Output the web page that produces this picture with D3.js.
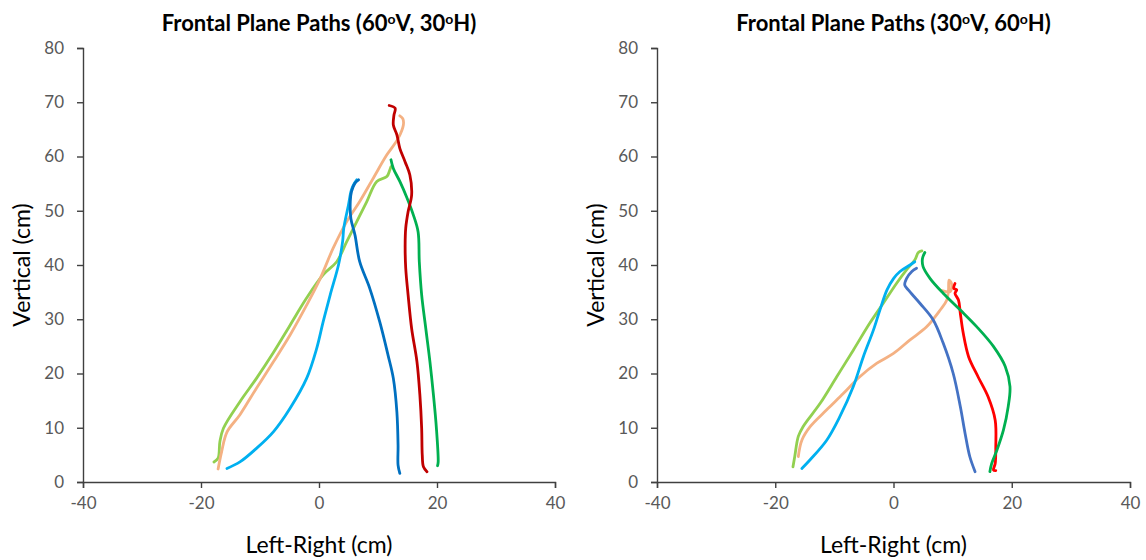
<!DOCTYPE html>
<html>
<head>
<meta charset="utf-8">
<script src="https://cdn.jsdelivr.net/npm/d3@7"></script>
<style>
  body { margin: 0; background: #fff; }
  text { font-family: Lato, "Open Sans", sans-serif; }
</style>
</head>
<body>
<svg id="chart" width="1146" height="560"></svg>
<script>
// ticks
const xTicks = [-40, -20, 0, 20, 40]
const yTicks = [0, 10, 20, 30, 40, 50, 60, 70, 80]

// panel 1 : 60V, 30H   ([left-right cm, vertical cm])
const p1DarkRed = [[11.9,69.4],[12.9,68.9],[12.7,67.6],[12.6,65.8],[13.2,64.0],[13.7,61.5],[14.6,59.0],[15.4,56.6],[15.7,52.9],[15.1,49.8],[14.7,46.8],[14.6,43.7],[14.7,39.4],[15.1,34.5],[15.7,28.3],[16.6,22.2],[17.1,16.0],[17.4,9.9],[17.5,5.0],[17.7,2.8],[18.3,1.9]]
const p1Peach = [[-17.1,2.4],[-16.5,5.6],[-15.6,9.2],[-13.4,12.4],[-10.6,17.3],[-7.7,22.2],[-4.9,27.1],[-2.1,32.6],[0.2,37.5],[2.4,43.1],[4.7,48.0],[6.9,51.7],[9.2,56.0],[11.5,60.3],[13.4,63.3],[14.3,65.8],[14.2,67.0],[13.7,67.5]]
const p1Green = [[12.2,59.4],[12.6,57.8],[13.7,55.4],[14.9,52.4],[16.0,49.2],[16.8,46.1],[17.0,40.6],[17.4,34.5],[18.1,28.3],[18.8,22.2],[19.4,16.0],[19.9,9.9],[20.2,3.7],[20.1,3.0]]
const p1LightGreen = [[-17.8,3.7],[-17.1,4.4],[-16.8,7.4],[-16.2,9.9],[-13.4,14.8],[-10.6,19.1],[-7.7,23.9],[-4.9,28.9],[-2.1,33.9],[0.7,38.2],[3.0,40.6],[4.7,44.3],[6.4,48.0],[8.1,51.7],[9.8,55.4],[11.5,56.3],[12.0,57.5],[12.2,58.1]]
const p1LightBlue = [[-15.6,2.5],[-13.4,3.7],[-10.6,6.2],[-7.7,9.3],[-4.9,13.6],[-2.1,19.1],[-0.4,24.6],[0.7,29.5],[1.9,34.5],[3.3,40.0],[4.0,44.3],[4.2,46.8],[5.0,51.1],[5.4,53.5],[5.8,54.7],[6.4,55.7]]
const p1Blue = [[6.7,55.7],[6.1,55.1],[5.5,53.5],[5.3,51.7],[5.4,48.6],[6.1,45.5],[6.9,40.6],[8.6,35.7],[10.3,29.5],[11.7,23.4],[12.6,19.1],[13.2,12.9],[13.4,6.8],[13.4,3.1],[13.7,1.6]]

// panel 2 : 30V, 60H
const p2Red = [[10.4,36.6],[10.2,35.7],[10.7,35.4],[10.4,34.8],[11.0,33.5],[11.3,31.1],[11.8,27.4],[12.7,23.1],[14.3,19.4],[16.0,15.7],[17.2,11.4],[17.3,6.5],[17.2,3.4],[16.9,2.2],[17.3,2.1]]
const p2Peach = [[-16.1,4.7],[-15.5,7.7],[-14.1,10.2],[-11.3,13.3],[-8.5,16.3],[-5.7,19.4],[-2.8,21.9],[0.0,23.7],[2.8,26.2],[5.6,28.6],[7.9,31.7],[9.0,33.5],[9.3,35.3],[9.4,37.2],[9.8,36.6],[9.6,35.1],[8.2,35.3]]
const p2Green = [[5.3,42.3],[4.9,41.2],[5.0,39.7],[6.2,37.5],[8.4,34.8],[11.3,31.7],[14.1,28.6],[16.9,25.0],[18.9,21.3],[19.7,17.6],[19.4,13.9],[18.6,9.6],[17.5,5.9],[16.6,3.4],[16.3,1.9]]
const p2LightGreen = [[-17.0,2.8],[-16.7,4.7],[-16.1,8.4],[-15.3,10.2],[-12.4,14.5],[-9.6,19.4],[-6.8,24.3],[-4.0,29.3],[-1.7,33.0],[0.5,36.6],[2.2,39.1],[3.6,40.9],[4.2,42.3],[4.8,42.6]]
const p2LightBlue = [[-15.5,2.5],[-14.1,4.1],[-11.3,7.7],[-9.1,12.0],[-6.8,17.6],[-5.1,23.1],[-3.4,28.0],[-2.3,31.7],[-1.1,35.4],[0.0,37.5],[1.1,38.8],[2.8,40.0],[3.6,40.6]]
const p2Blue = [[3.9,39.4],[3.1,38.8],[2.2,37.5],[1.9,36.3],[2.5,35.4],[4.5,32.9],[6.7,29.9],[8.4,25.6],[10.1,20.0],[11.3,13.9],[12.1,9.0],[12.9,4.7],[13.8,1.9]]

const panels = [
  { left: 83, right: 555, v: '60', h: '30', lines: [
    { data: p1LightGreen, color: '#92d050' },
    { data: p1Peach, color: '#f4b183' },
    { data: p1LightBlue, color: '#00b0f0' },
    { data: p1Blue, color: '#0070c0' },
    { data: p1Green, color: '#00b050' },
    { data: p1DarkRed, color: '#c00000' }
  ]},
  { left: 657, right: 1130, v: '30', h: '60', lines: [
    { data: p2Peach, color: '#f4b183' },
    { data: p2LightGreen, color: '#92d050' },
    { data: p2LightBlue, color: '#00b0f0' },
    { data: p2Blue, color: '#4472c4' },
    { data: p2Red, color: '#ff0000' },
    { data: p2Green, color: '#00b050' }
  ]}
]

const svg = d3.select('#chart')
const plotTop = 48, plotBottom = 482

panels.forEach(p => {
  let x = d3.scaleLinear().domain([-40, 40]).range([p.left, p.right])
  let y = d3.scaleLinear().domain([0, 80]).range([plotBottom, plotTop])
  let g = svg.append('g')

  // axes (plain hyphen for negatives, like the original)
  let xAxis = g.append('g')
    .attr('transform', `translate(0,${plotBottom})`)
    .call(d3.axisBottom(x).tickValues(xTicks).tickFormat(d => String(d))
      .tickSize(6).tickSizeOuter(6).tickPadding(9))
  let yAxis = g.append('g')
    .attr('transform', `translate(${p.left},0)`)
    .call(d3.axisLeft(y).tickValues(yTicks).tickFormat(d => String(d))
      .tickSize(6).tickSizeOuter(6).tickPadding(13))

  ;[xAxis, yAxis].forEach(a => {
    a.select('.domain').attr('stroke', '#404040').attr('stroke-width', 1.4)
    a.selectAll('.tick line').attr('stroke', '#404040').attr('stroke-width', 1.4)
    a.selectAll('.tick text').attr('fill', '#595959').style('font-size', '17px')
  })

  // paths
  let line = d3.line().x(d => x(d[0])).y(d => y(d[1])).curve(d3.curveCatmullRom)
  p.lines.forEach(l => {
    g.append('path')
      .datum(l.data)
      .attr('d', line)
      .attr('fill', 'none')
      .attr('stroke', l.color)
      .attr('stroke-width', 2.8)
      .attr('stroke-linecap', 'round')
      .attr('stroke-linejoin', 'round')
  })

  // title
  let mid = (p.left + p.right) / 2
  let t = g.append('text')
    .attr('x', mid)
    .attr('y', 31)
    .attr('text-anchor', 'middle')
    .style('font-size', '22px')
    .style('font-weight', 'bold')
    .attr('fill', '#000')
  t.append('tspan').text('Frontal Plane Paths (' + p.v)
  t.append('tspan').text('o').attr('dy', -7).style('font-size', '14px')
  t.append('tspan').text('V, ' + p.h).attr('dy', 7)
  t.append('tspan').text('o').attr('dy', -7).style('font-size', '14px')
  t.append('tspan').text('H)').attr('dy', 7)

  // axis titles
  g.append('text')
    .attr('x', mid)
    .attr('y', 553)
    .attr('text-anchor', 'middle')
    .style('font-size', '23px')
    .attr('fill', '#000')
    .text('Left-Right (cm)')
  g.append('text')
    .attr('transform', `translate(${p.left - 53},${(plotTop + plotBottom) / 2}) rotate(-90)`)
    .attr('text-anchor', 'middle')
    .style('font-size', '23px')
    .attr('fill', '#000')
    .text('Vertical (cm)')
})
</script>
</body>
</html>
